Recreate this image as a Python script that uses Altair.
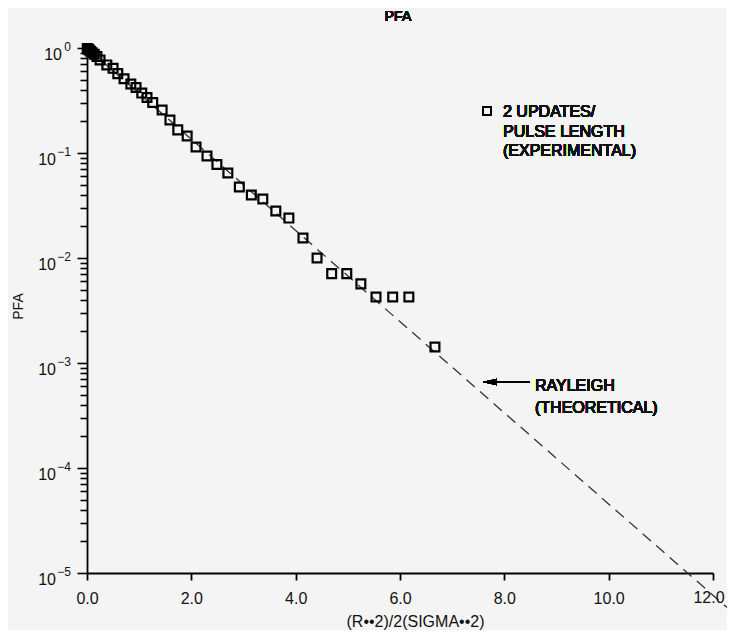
import altair as alt
import pandas as pd

# ---- data ----
x_exp = [0.005, 0.02, 0.04, 0.07, 0.10, 0.14, 0.19,
         0.25, 0.38, 0.50, 0.59, 0.71, 0.84, 0.94,
         1.05, 1.15, 1.26, 1.44, 1.59, 1.74, 1.92,
         2.09, 2.30, 2.49, 2.70, 2.92,
         3.15, 3.37, 3.62, 3.87,
         4.14, 4.41, 4.69, 4.98,
         5.25, 5.54, 5.86, 6.17, 6.67]
pfa_exp = [0.99, 0.98, 0.96, 0.93, 0.90, 0.87, 0.83,
           0.77, 0.69, 0.64, 0.57, 0.51, 0.454, 0.42,
           0.372, 0.338, 0.303, 0.257, 0.206, 0.166, 0.145,
           0.114, 0.0936, 0.0777, 0.0645, 0.0475,
           0.0398, 0.0365, 0.0280, 0.0240,
           0.0155, 0.0100, 0.0071, 0.0071,
           0.00567, 0.00425, 0.00425, 0.00425, 0.00142]

x_theory = [0.0, 12.38]
pfa_theory = [1.0, 4.2e-6]

x_ticks = [0, 2, 4, 6, 8, 10, 12]
decade_exps = [0, -1, -2, -3, -4, -5]
decade_labels = ["0", "\u22121", "\u22122", "\u22123", "\u22124", "\u22125"]

legend_lines = ["2 UPDATES/", "PULSE LENGTH", "(EXPERIMENTAL)"]
note_lines = ["RAYLEIGH", "(THEORETICAL)"]

FONT = "Liberation Sans"
INK = "#000000"
TXT = "#111111"

exp_df = pd.DataFrame({"x": x_exp, "y": pfa_exp})
theo_df = pd.DataFrame({"x": x_theory, "y": pfa_theory})
xt_df = pd.DataFrame({"x": x_ticks})
lab_df = pd.DataFrame({"y": [10.0 ** e for e in decade_exps], "exp": decade_labels})
minor_ticks = [m * 10.0 ** k for k in range(-5, 1) for m in range(1, 10) if m * 10.0 ** k <= 1.0000001]

X = alt.X("x:Q",
          scale=alt.Scale(domain=[0, 12], nice=False, zero=False),
          axis=alt.Axis(values=x_ticks, format=".1f", grid=False,
                        tickSize=7, tickWidth=1.8, tickColor=INK,
                        domainColor=INK, domainWidth=1.8,
                        labelFont=FONT, labelFontSize=16, labelColor=TXT,
                        labelPadding=10, labelFlush=False,
                        labelExpr="datum.value >= 11.5 ? '' : datum.label",
                        title="(R\u2022\u20222)/2(SIGMA\u2022\u20222)",
                        titleFont=FONT, titleFontSize=16, titleFontWeight="normal",
                        titleColor=TXT, titleX=328, titleY=48,
                        titleAlign="center", titleBaseline="middle"))
Y = alt.Y("y:Q",
          scale=alt.Scale(type="log", domain=[1e-5, 1], nice=False),
          axis=alt.Axis(values=minor_ticks, labels=False, grid=False,
                        tickSize={"condition": {"test": "abs(log(datum.value)/LN10 - round(log(datum.value)/LN10)) < 1e-6", "value": 10}, "value": 7},
                        tickWidth=1.6, tickColor=INK,
                        domainColor=INK, domainWidth=1.8,
                        title="PFA", titleFont=FONT, titleFontSize=14,
                        titleFontWeight="normal", titleColor=TXT,
                        titleX=-69, titleY=258, titleAngle=-90,
                        titleAlign="center", titleBaseline="middle"))

theory = alt.Chart(theo_df).mark_line(
    strokeDash=[11, 7], strokeWidth=1.3, color="#333333", clip=False
).encode(x=X, y=Y)

points = alt.Chart(exp_df).mark_point(
    shape="square", filled=False, size=78, strokeWidth=2.2, color=INK, opacity=1
).encode(x=X, y=Y)

# last x tick label drawn separately, nudged left so it stays inside the page
last_xlab = alt.Chart(xt_df).transform_filter("datum.x >= 11.5").mark_text(
    font=FONT, fontSize=16, align="center", baseline="top", dx=-4, color=TXT
).encode(x=X, y=alt.value(542), text=alt.Text("x:Q", format=".1f"))

ten_a = alt.Chart(lab_df).transform_filter("datum.exp == '0'").mark_text(
    text="10", font=FONT, fontSize=16, align="right", baseline="alphabetic", dy=12, color=TXT
).encode(y=Y, x=alt.value(-25))
ten_b = alt.Chart(lab_df).transform_filter("datum.exp != '0'").mark_text(
    text="10", font=FONT, fontSize=16, align="right", baseline="alphabetic", dy=12, color=TXT
).encode(y=Y, x=alt.value(-31))
expo = alt.Chart(lab_df).mark_text(
    font=FONT, fontSize=12, align="right", baseline="alphabetic", dy=3, color=TXT
).encode(y=Y, x=alt.value(-16), text="exp:N")

title = alt.Chart(exp_df).mark_text(
    text="PFA", font=FONT, fontSize=14, align="center", baseline="middle", color=TXT
).encode(x=alt.value(311), y=alt.value(-31))

leg_sym = alt.Chart(exp_df).mark_point(
    shape="square", filled=False, size=60, strokeWidth=1.6, color=INK, opacity=1
).encode(x=alt.value(400), y=alt.value(63))
leg_txt = alt.Chart(exp_df).mark_text(
    font=FONT, fontSize=16, align="left", baseline="alphabetic", lineHeight=19.5, color=TXT
).encode(x=alt.value(416), y=alt.value(69), text=alt.value(legend_lines))

arrow_line = alt.Chart(exp_df).mark_rule(strokeWidth=2, color=INK).encode(
    x=alt.value(408), x2=alt.value(443), y=alt.value(334))
arrow_head = alt.Chart(exp_df).mark_point(
    shape="M-1,0L1,-0.45L1,0.45Z", filled=True, size=196, color=INK, opacity=1
).encode(x=alt.value(403), y=alt.value(334))
note_txt = alt.Chart(exp_df).mark_text(
    font=FONT, fontSize=16, align="left", baseline="alphabetic", lineHeight=22, color=TXT
).encode(x=alt.value(448), y=alt.value(343), text=alt.value(note_lines))

chart = alt.layer(
    theory, points, last_xlab, ten_a, ten_b, expo, title,
    leg_sym, leg_txt, arrow_line, arrow_head, note_txt
).properties(
    width=626, height=525,
    padding={"left": 79, "top": 40, "right": 14, "bottom": 57},
    autosize=alt.AutoSizeParams(type="none"),
    background="#f4f4f4",
).configure_view(stroke=None)

chart.save("out.html", embed_options={"renderer": "svg", "actions": False})
